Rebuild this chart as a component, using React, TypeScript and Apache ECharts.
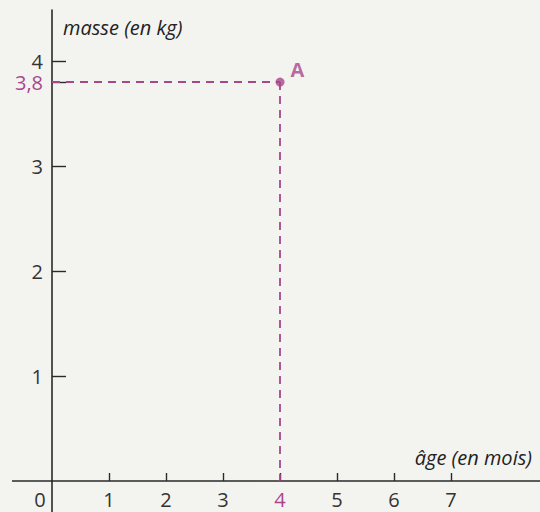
import React, { useEffect, useRef } from "react";
import * as echarts from "echarts";

// Age in months (x) and mass in kg (y)
const xTickValues = [1, 2, 3, 4, 5, 6, 7];
const yTickValues = [1, 2, 3, 3.8, 4];
const pointA = [4, 3.8];
const pointName = "A";
const xTitle = "âge (en mois)";
const yTitle = "masse (en kg)";
const originLabel = "0";

const PURPLE = "#a8468c";
const INK = "#2a2a2a";
const FONT = '"Open Sans", "Noto Sans", sans-serif';
const TICK_FONT = 20;

const fmt = (v: number) => String(v).replace(".", ",");

export default function App() {
  const ref = useRef<HTMLDivElement>(null);

  useEffect(() => {
    if (!ref.current) return;
    const chart = echarts.init(ref.current, null, { renderer: "svg" });
    const [px, py] = pointA;

    chart.setOption({
      animation: false,
      backgroundColor: "#f3f3f0",
      grid: {
        left: 52,
        right: 0,
        top: 10,
        bottom: 31,
        containLabel: false,
        outerBoundsMode: "none",
      },
      xAxis: {
        type: "value",
        min: 0,
        max: 8.56,
        splitLine: { show: false },
        axisLine: { show: true, lineStyle: { color: INK, width: 1.6 } },
        axisTick: {
          show: true,
          inside: true,
          length: 8,
          customValues: xTickValues,
          lineStyle: { color: INK, width: 1.4 },
        },
        axisLabel: {
          show: true,
          customValues: xTickValues,
          hideOverlap: false,
          margin: 8,
          fontSize: TICK_FONT,
          fontFamily: FONT,
          color: (v: any) => (Number(v) === px ? PURPLE : "#333"),
          formatter: (v: number) => fmt(v),
        },
      },
      yAxis: {
        type: "value",
        min: 0,
        max: 4.486,
        splitLine: { show: false },
        axisLine: { show: true, lineStyle: { color: INK, width: 1.6 } },
        axisTick: {
          show: true,
          inside: true,
          length: 14,
          customValues: yTickValues,
          lineStyle: { color: INK, width: 1.4 },
        },
        axisLabel: {
          show: true,
          customValues: yTickValues,
          hideOverlap: false,
          margin: 9,
          fontSize: TICK_FONT,
          lineHeight: 18,
          fontFamily: FONT,
          color: (v: any) => (Number(v) === py ? PURPLE : "#333"),
          formatter: (v: number) => fmt(v),
        },
      },
      series: [
        {
          type: "scatter",
          data: [pointA],
          symbol: "circle",
          symbolSize: 9,
          itemStyle: { color: PURPLE },
          label: {
            show: true,
            formatter: pointName,
            position: "right",
            offset: [1, -13],
            color: PURPLE,
            fontSize: 20,
            fontWeight: "bold",
            fontFamily: FONT,
          },
          markLine: {
            silent: true,
            symbol: "none",
            label: { show: false },
            lineStyle: { color: PURPLE, type: [8, 6], width: 1.8 },
            data: [
              [{ coord: [0, py] }, { coord: [px, py] }],
              [{ coord: [px, py] }, { coord: [px, 0] }],
            ],
          },
          z: 5,
        },
      ],
    });

    // Axis lines continue a little past the origin (left and downward)
    const [ox, oy] = chart.convertToPixel({ gridIndex: 0 }, [0, 0]) as number[];
    const axisStroke = { stroke: INK, lineWidth: 1.6 };
    chart.setOption({
      graphic: [
        {
          type: "line",
          shape: { x1: 12, y1: oy, x2: ox, y2: oy },
          style: axisStroke,
          silent: true,
        },
        {
          type: "line",
          shape: { x1: ox, y1: oy, x2: ox, y2: 512 },
          style: axisStroke,
          silent: true,
        },
        {
          type: "text",
          x: ox - 12,
          y: oy + 18,
          style: {
            text: originLabel,
            fontSize: TICK_FONT,
            fontFamily: FONT,
            fill: "#333",
            align: "center",
            verticalAlign: "middle",
          },
        },
        {
          type: "text",
          x: ox + 11,
          y: 27,
          style: {
            text: yTitle,
            fontSize: 20,
            fontStyle: "italic",
            fontFamily: FONT,
            fill: "#222",
            align: "left",
            verticalAlign: "middle",
          },
        },
        {
          type: "text",
          x: 532,
          y: oy - 24,
          style: {
            text: xTitle,
            fontSize: 20,
            fontStyle: "italic",
            fontFamily: FONT,
            fill: "#222",
            align: "right",
            verticalAlign: "middle",
          },
        },
      ],
    });

    return () => chart.dispose();
  }, []);

  return (
    <div
      ref={ref}
      style={{ position: "absolute", left: 0, top: 0, width: 540, height: 512 }}
    />
  );
}
